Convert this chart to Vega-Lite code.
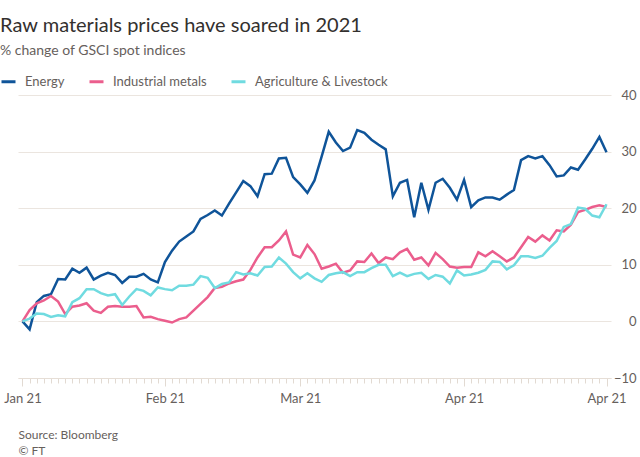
{
  "$schema": "https://vega.github.io/schema/vega-lite/v6.json",
  "width": 593,
  "height": 283,
  "autosize": {"type": "none"},
  "padding": {"left": 18, "top": 95, "right": 29, "bottom": 79},
  "background": "white",
  "title": {
    "text": "Raw materials prices have soared in 2021",
    "subtitle": "% change of GSCI spot indices",
    "anchor": "start",
    "frame": "group",
    "dx": -18,
    "offset": 15,
    "font": "Lato",
    "fontSize": 20,
    "fontWeight": "normal",
    "color": "#33302e",
    "subtitleFont": "Lato",
    "subtitleFontSize": 14,
    "subtitleColor": "#66605c",
    "subtitlePadding": 8
  },
  "data": {
    "values": [
      {"d":"2021-01-01","Energy":0,"Industrial metals":0,"Agriculture & Livestock":0},
      {"d":"2021-01-04","Energy":-1.4,"Industrial metals":2.0,"Agriculture & Livestock":0.5},
      {"d":"2021-01-05","Energy":3.4,"Industrial metals":3.2,"Agriculture & Livestock":1.4},
      {"d":"2021-01-06","Energy":4.5,"Industrial metals":3.7,"Agriculture & Livestock":1.3},
      {"d":"2021-01-07","Energy":4.8,"Industrial metals":4.5,"Agriculture & Livestock":0.8},
      {"d":"2021-01-08","Energy":7.5,"Industrial metals":3.5,"Agriculture & Livestock":1.1},
      {"d":"2021-01-11","Energy":7.4,"Industrial metals":1.3,"Agriculture & Livestock":0.9},
      {"d":"2021-01-12","Energy":9.3,"Industrial metals":2.6,"Agriculture & Livestock":3.4},
      {"d":"2021-01-13","Energy":8.6,"Industrial metals":2.8,"Agriculture & Livestock":4.1},
      {"d":"2021-01-14","Energy":9.5,"Industrial metals":3.2,"Agriculture & Livestock":5.7},
      {"d":"2021-01-15","Energy":7.4,"Industrial metals":1.9,"Agriculture & Livestock":5.7},
      {"d":"2021-01-19","Energy":8.1,"Industrial metals":1.5,"Agriculture & Livestock":5.0},
      {"d":"2021-01-20","Energy":8.6,"Industrial metals":2.6,"Agriculture & Livestock":4.6},
      {"d":"2021-01-21","Energy":8.2,"Industrial metals":2.7,"Agriculture & Livestock":4.8},
      {"d":"2021-01-22","Energy":6.8,"Industrial metals":2.6,"Agriculture & Livestock":2.9},
      {"d":"2021-01-25","Energy":7.9,"Industrial metals":2.6,"Agriculture & Livestock":4.4},
      {"d":"2021-01-26","Energy":7.9,"Industrial metals":2.7,"Agriculture & Livestock":5.7},
      {"d":"2021-01-27","Energy":8.4,"Industrial metals":0.7,"Agriculture & Livestock":5.4},
      {"d":"2021-01-28","Energy":7.4,"Industrial metals":0.8,"Agriculture & Livestock":4.6},
      {"d":"2021-01-29","Energy":6.9,"Industrial metals":0.4,"Agriculture & Livestock":6.0},
      {"d":"2021-02-01","Energy":10.5,"Industrial metals":0.1,"Agriculture & Livestock":5.7},
      {"d":"2021-02-02","Energy":12.5,"Industrial metals":-0.2,"Agriculture & Livestock":5.5},
      {"d":"2021-02-03","Energy":14.1,"Industrial metals":0.4,"Agriculture & Livestock":6.3},
      {"d":"2021-02-04","Energy":15.0,"Industrial metals":0.7,"Agriculture & Livestock":6.3},
      {"d":"2021-02-05","Energy":15.9,"Industrial metals":1.9,"Agriculture & Livestock":6.5},
      {"d":"2021-02-08","Energy":18.1,"Industrial metals":3.1,"Agriculture & Livestock":8.0},
      {"d":"2021-02-09","Energy":18.8,"Industrial metals":4.3,"Agriculture & Livestock":7.7},
      {"d":"2021-02-10","Energy":19.6,"Industrial metals":5.9,"Agriculture & Livestock":5.9},
      {"d":"2021-02-11","Energy":18.7,"Industrial metals":6.1,"Agriculture & Livestock":6.6},
      {"d":"2021-02-12","Energy":20.8,"Industrial metals":6.7,"Agriculture & Livestock":6.9},
      {"d":"2021-02-16","Energy":22.8,"Industrial metals":7.1,"Agriculture & Livestock":8.7},
      {"d":"2021-02-17","Energy":24.8,"Industrial metals":7.4,"Agriculture & Livestock":8.3},
      {"d":"2021-02-18","Energy":23.9,"Industrial metals":9.1,"Agriculture & Livestock":8.5},
      {"d":"2021-02-19","Energy":22.1,"Industrial metals":11.3,"Agriculture & Livestock":8.1},
      {"d":"2021-02-22","Energy":26.0,"Industrial metals":13.1,"Agriculture & Livestock":9.6},
      {"d":"2021-02-23","Energy":26.1,"Industrial metals":13.1,"Agriculture & Livestock":9.7},
      {"d":"2021-02-24","Energy":28.8,"Industrial metals":14.3,"Agriculture & Livestock":11.3},
      {"d":"2021-02-25","Energy":28.9,"Industrial metals":15.9,"Agriculture & Livestock":10.2},
      {"d":"2021-02-26","Energy":25.5,"Industrial metals":11.8,"Agriculture & Livestock":8.7},
      {"d":"2021-03-01","Energy":24.2,"Industrial metals":11.3,"Agriculture & Livestock":7.6},
      {"d":"2021-03-02","Energy":22.7,"Industrial metals":13.5,"Agriculture & Livestock":8.5},
      {"d":"2021-03-03","Energy":24.9,"Industrial metals":11.9,"Agriculture & Livestock":7.6},
      {"d":"2021-03-04","Energy":29.1,"Industrial metals":9.3,"Agriculture & Livestock":7.0},
      {"d":"2021-03-05","Energy":33.5,"Industrial metals":9.7,"Agriculture & Livestock":8.2},
      {"d":"2021-03-08","Energy":31.6,"Industrial metals":10.2,"Agriculture & Livestock":8.5},
      {"d":"2021-03-09","Energy":30.1,"Industrial metals":8.6,"Agriculture & Livestock":8.7},
      {"d":"2021-03-10","Energy":30.7,"Industrial metals":9.0,"Agriculture & Livestock":8.0},
      {"d":"2021-03-11","Energy":33.8,"Industrial metals":10.6,"Agriculture & Livestock":8.7},
      {"d":"2021-03-12","Energy":33.3,"Industrial metals":10.5,"Agriculture & Livestock":8.7},
      {"d":"2021-03-15","Energy":32.1,"Industrial metals":12.0,"Agriculture & Livestock":9.4},
      {"d":"2021-03-16","Energy":31.2,"Industrial metals":10.3,"Agriculture & Livestock":10.0},
      {"d":"2021-03-17","Energy":30.4,"Industrial metals":11.3,"Agriculture & Livestock":10.0},
      {"d":"2021-03-18","Energy":22.1,"Industrial metals":11.0,"Agriculture & Livestock":8.0},
      {"d":"2021-03-19","Energy":24.5,"Industrial metals":12.2,"Agriculture & Livestock":8.6},
      {"d":"2021-03-22","Energy":25.0,"Industrial metals":12.8,"Agriculture & Livestock":8.0},
      {"d":"2021-03-23","Energy":18.4,"Industrial metals":10.9,"Agriculture & Livestock":8.4},
      {"d":"2021-03-24","Energy":24.5,"Industrial metals":11.3,"Agriculture & Livestock":8.6},
      {"d":"2021-03-25","Energy":19.7,"Industrial metals":9.9,"Agriculture & Livestock":7.5},
      {"d":"2021-03-26","Energy":24.5,"Industrial metals":12.1,"Agriculture & Livestock":8.2},
      {"d":"2021-03-29","Energy":25.2,"Industrial metals":11.0,"Agriculture & Livestock":7.9},
      {"d":"2021-03-30","Energy":23.6,"Industrial metals":9.7,"Agriculture & Livestock":6.7},
      {"d":"2021-03-31","Energy":21.5,"Industrial metals":9.5,"Agriculture & Livestock":9.0},
      {"d":"2021-04-01","Energy":25.0,"Industrial metals":9.6,"Agriculture & Livestock":8.1},
      {"d":"2021-04-05","Energy":20.2,"Industrial metals":9.6,"Agriculture & Livestock":8.3},
      {"d":"2021-04-06","Energy":21.4,"Industrial metals":12.2,"Agriculture & Livestock":8.6},
      {"d":"2021-04-07","Energy":21.9,"Industrial metals":11.5,"Agriculture & Livestock":9.1},
      {"d":"2021-04-08","Energy":21.9,"Industrial metals":12.4,"Agriculture & Livestock":10.6},
      {"d":"2021-04-09","Energy":21.5,"Industrial metals":11.5,"Agriculture & Livestock":10.5},
      {"d":"2021-04-12","Energy":22.4,"Industrial metals":10.6,"Agriculture & Livestock":9.2},
      {"d":"2021-04-13","Energy":23.2,"Industrial metals":11.3,"Agriculture & Livestock":9.9},
      {"d":"2021-04-14","Energy":28.5,"Industrial metals":13.1,"Agriculture & Livestock":11.5},
      {"d":"2021-04-15","Energy":29.2,"Industrial metals":14.9,"Agriculture & Livestock":11.5},
      {"d":"2021-04-16","Energy":28.8,"Industrial metals":14.1,"Agriculture & Livestock":11.2},
      {"d":"2021-04-19","Energy":29.2,"Industrial metals":15.2,"Agriculture & Livestock":11.6},
      {"d":"2021-04-20","Energy":27.6,"Industrial metals":14.3,"Agriculture & Livestock":13.0},
      {"d":"2021-04-21","Energy":25.6,"Industrial metals":16.1,"Agriculture & Livestock":14.2},
      {"d":"2021-04-22","Energy":25.8,"Industrial metals":15.9,"Agriculture & Livestock":16.7},
      {"d":"2021-04-23","Energy":27.2,"Industrial metals":17.1,"Agriculture & Livestock":17.2},
      {"d":"2021-04-26","Energy":26.8,"Industrial metals":19.3,"Agriculture & Livestock":20.1},
      {"d":"2021-04-27","Energy":28.6,"Industrial metals":19.7,"Agriculture & Livestock":19.9},
      {"d":"2021-04-28","Energy":30.5,"Industrial metals":20.2,"Agriculture & Livestock":18.7},
      {"d":"2021-04-29","Energy":32.6,"Industrial metals":20.5,"Agriculture & Livestock":18.4},
      {"d":"2021-04-30","Energy":29.9,"Industrial metals":20.2,"Agriculture & Livestock":20.7}
    ]
  },
  "transform": [
    {"fold": ["Energy", "Industrial metals", "Agriculture & Livestock"], "as": ["series", "value"]}
  ],
  "mark": {"type": "line", "strokeWidth": 2.5, "interpolate": "linear"},
  "encoding": {
    "x": {
      "field": "d",
      "type": "ordinal",
      "scale": {"type": "point", "padding": 0.63},
      "axis": {
        "orient": "bottom",
        "labelExpr": "datum.value == '2021-01-01' ? 'Jan 21' : datum.value == '2021-02-01' ? 'Feb 21' : datum.value == '2021-03-01' ? 'Mar 21' : (datum.value == '2021-04-01' || datum.value == '2021-04-30') ? 'Apr 21' : ''",
        "labelAngle": 0,
        "labelOverlap": false,
        "labelFont": "Lato",
        "labelFontSize": 13,
        "labelColor": "#66605c",
        "labelPadding": 6,
        "domainColor": "#e6ded6",
        "tickColor": "#e2dad2",
        "tickSize": {"condition": {"test": "indexof(['2021-01-01','2021-02-01','2021-03-01','2021-04-01','2021-04-30'], datum.value) >= 0", "value": 8}, "value": 5},
        "grid": false,
        "title": ["Source: Bloomberg", "© FT"],
        "titleFont": "Lato",
        "titleFontSize": 12,
        "titleFontWeight": "normal",
        "titleColor": "#66605c",
        "titleAnchor": "start",
        "titleAlign": "left",
        "titleBaseline": "top",
        "titlePadding": 24,
        "titleLineHeight": 16,
        "encode": {"title": {"dx": {"value": -18}}}
      }
    },
    "y": {
      "field": "value",
      "type": "quantitative",
      "scale": {"domain": [-10, 40], "nice": false, "zero": false},
      "axis": {
        "orient": "right",
        "values": [-10, 0, 10, 20, 30, 40],
        "grid": true,
        "gridColor": "#ebe5df",
        "domain": false,
        "ticks": false,
        "labelAlign": "right",
        "labelPadding": 25,
        "labelFont": "Lato",
        "labelFontSize": 13,
        "labelColor": "#66605c",
        "title": null
      }
    },
    "color": {
      "field": "series",
      "type": "nominal",
      "scale": {
        "domain": ["Energy", "Industrial metals", "Agriculture & Livestock"],
        "range": ["#0f5499", "#eb5e8d", "#70dbe0"]
      },
      "legend": {
        "orient": "none",
        "legendX": -18,
        "legendY": -22,
        "direction": "horizontal",
        "title": null,
        "symbolType": "stroke",
        "symbolStrokeWidth": 3,
        "symbolSize": 196,
        "labelFont": "Lato",
        "labelFontSize": 13,
        "labelColor": "#66605c",
        "labelOffset": 8,
        "columnPadding": 18
      }
    }
  },
  "config": {"view": {"stroke": null}}
}
